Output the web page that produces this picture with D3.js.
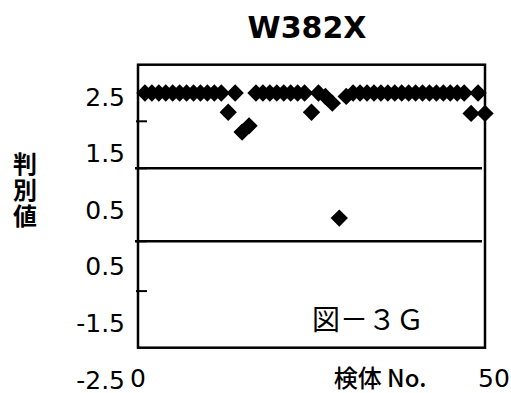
<!DOCTYPE html>
<html><head><meta charset="utf-8">
<script src="https://cdn.jsdelivr.net/npm/d3@7"></script>
<style>html,body{margin:0;padding:0;background:#fff;}</style>
</head><body><svg id="c" width="511" height="393"></svg>
<script>
const title = "W382X";
const yLabel = "判別値";
const xLabel = "検体 No.";
const figLabel = "図－３Ｇ";
const sampleNo = [1,2,3,4,5,6,7,8,9,10,11,12,13,14,15,16,17,18,19,20,21,22,23,24,25,
  26,27,28,29,30,31,32,33,34,35,36,37,38,39,40,41,42,43,44,45,46,47,48,49,50];
const values = [2.5,2.5,2.5,2.5,2.5,2.5,2.5,2.5,2.5,2.5,2.5,2.5,2.16,2.5,1.81,1.92,
  2.5,2.5,2.5,2.5,2.5,2.5,2.5,2.5,2.16,2.5,2.44,2.32,0.29,2.44,
  2.5,2.5,2.5,2.5,2.5,2.5,2.5,2.5,2.5,2.5,2.5,2.5,2.5,2.5,2.5,2.5,2.5,2.14,2.5,2.14];
const yTickValues = [2.5,1.5,0.5,-0.5,-1.5,-2.5];
const yTickText = ["2.5","1.5","0.5","0.5","-1.5","-2.5"];
const xTickValues = [0,50];
const xTickText = ["0","50"];
const thresholds = [1.17,-0.12];
const axisMarks = [2.0,1.17,-0.12,-1.0];
const yTop = 3.0, yBottom = -2.0;

const svg = d3.select("#c");
const x = d3.scaleLinear().domain([0,50]).range([138,485]);
const y = d3.scaleLinear().domain([2.5,-2.5]).range([93,376]);

// title
svg.append("text").attr("x",307).attr("y",38).attr("text-anchor","middle")
  .attr("font-family","DejaVu Sans").attr("font-weight","bold").attr("font-size",30)
  .text(title);

// frame
svg.append("rect").attr("x",x(0)).attr("y",y(yTop))
  .attr("width",x(50)-x(0)).attr("height",y(yBottom)-y(yTop))
  .attr("fill","none").attr("stroke","#000").attr("stroke-width",2.5);

// threshold lines
svg.selectAll("line.th").data(thresholds).join("line").attr("class","th")
  .attr("x1",x(0)-3).attr("x2",x(50)-3)
  .attr("y1",d=>y(d)).attr("y2",d=>y(d))
  .attr("stroke","#000").attr("stroke-width",2.5);

// small axis marks
svg.selectAll("line.mk").data(axisMarks).join("line").attr("class","mk")
  .attr("x1",x(0)-2).attr("x2",x(0)+9)
  .attr("y1",d=>y(d)).attr("y2",d=>y(d))
  .attr("stroke","#000").attr("stroke-width",2);

// y tick labels through axis
const yAxis = d3.axisLeft(y).tickValues(yTickValues).tickSize(0)
  .tickFormat((d,i)=>yTickText[i]);
const gy = svg.append("g").attr("transform",`translate(${x(0)-13},0)`).call(yAxis);
gy.select(".domain").remove();
gy.selectAll("text").attr("x",0).attr("dy","0.48em")
  .attr("font-family","DejaVu Sans").attr("font-size",25).attr("fill","#000");

// x tick labels
svg.selectAll("text.xt").data(xTickValues).join("text").attr("class","xt")
  .attr("x",(d,i)=> i===0 ? x(d) : x(d)+9).attr("y",387).attr("text-anchor","middle")
  .attr("font-family","DejaVu Sans").attr("font-size",25)
  .text((d,i)=>xTickText[i]);

// x label
svg.append("text").attr("x",380).attr("y",387).attr("text-anchor","middle")
  .attr("font-family","Noto Sans CJK JP").attr("font-weight","500").attr("font-size",24).text(xLabel);

// y label (vertical)
svg.append("text").attr("x",25).attr("y",152)
  .style("writing-mode","vertical-rl").style("text-orientation","upright")
  .attr("font-family","Noto Sans CJK JP").attr("font-weight","bold").attr("font-size",24)
  .attr("letter-spacing",2)
  .text(yLabel);

// figure label
svg.append("text").attr("x",368).attr("y",330).attr("text-anchor","middle")
  .attr("font-family","Noto Sans CJK JP").attr("font-size",28).text(figLabel);

// diamonds
const sym = d3.symbol().type(d3.symbolSquare).size(150);
svg.selectAll("path.pt").data(values).join("path").attr("class","pt")
  .attr("d",sym)
  .attr("transform",(d,i)=>`translate(${x(sampleNo[i])},${y(d)}) rotate(45)`)
  .attr("fill","#000");
</script></body></html>
